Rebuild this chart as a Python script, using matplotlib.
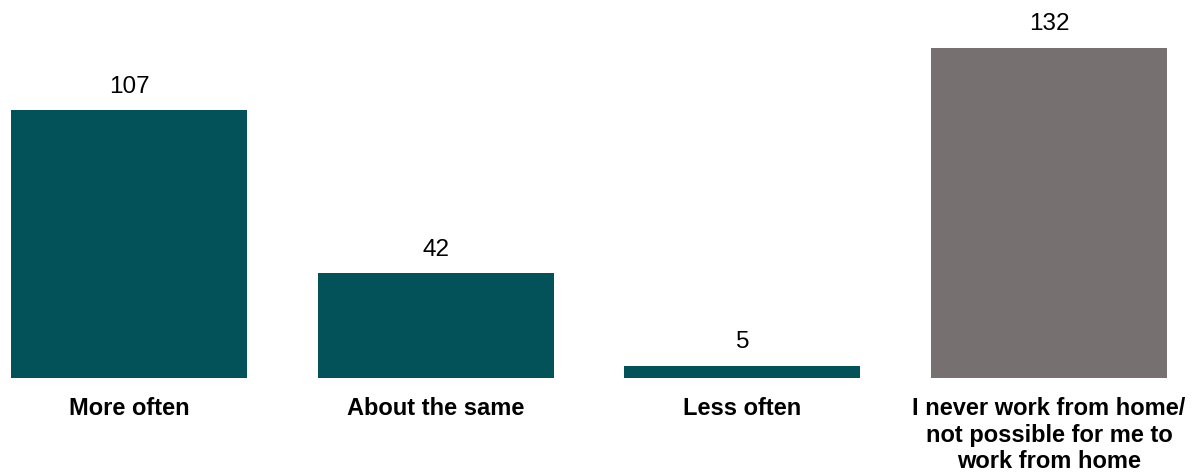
import matplotlib
matplotlib.use("Agg")
import matplotlib.pyplot as plt

categories = ["More often", "About the same", "Less often",
              "I never work from home/\nnot possible for me to\nwork from home"]
values = [107, 42, 5, 132]
colors = ["#03525a", "#03525a", "#03525a", "#767170"]

plt.rcParams['font.family'] = ['Liberation Sans', 'DejaVu Sans']

W, H = 1197, 473
fig = plt.figure(figsize=(W / 100, H / 100), dpi=100)
left_px, right_px = 11, 1167
bottom_px, top_px = 378, 48
ax = fig.add_axes([left_px / W, (H - bottom_px) / H,
                   (right_px - left_px) / W, (bottom_px - top_px) / H])

x = list(range(len(categories)))
bw = 0.77
ax.bar(x, values, width=bw, color=colors)
ax.set_xlim(-bw / 2, len(categories) - 1 + bw / 2)
ax.set_ylim(0, max(values))

for xi, v in zip(x, values):
    ax.annotate(str(v), (xi, v), xytext=(0, 9), textcoords="offset points",
                ha="center", va="bottom", fontsize=17.5, color="#000000")

ax.set_xticks(x)
ax.set_xticklabels(categories, fontsize=17, fontweight="bold", linespacing=1.18,
                   va="top")
ax.tick_params(axis="x", length=0, pad=14)
ax.set_yticks([])
for s in ax.spines.values():
    s.set_visible(False)

fig.savefig("out.png", dpi=100)
